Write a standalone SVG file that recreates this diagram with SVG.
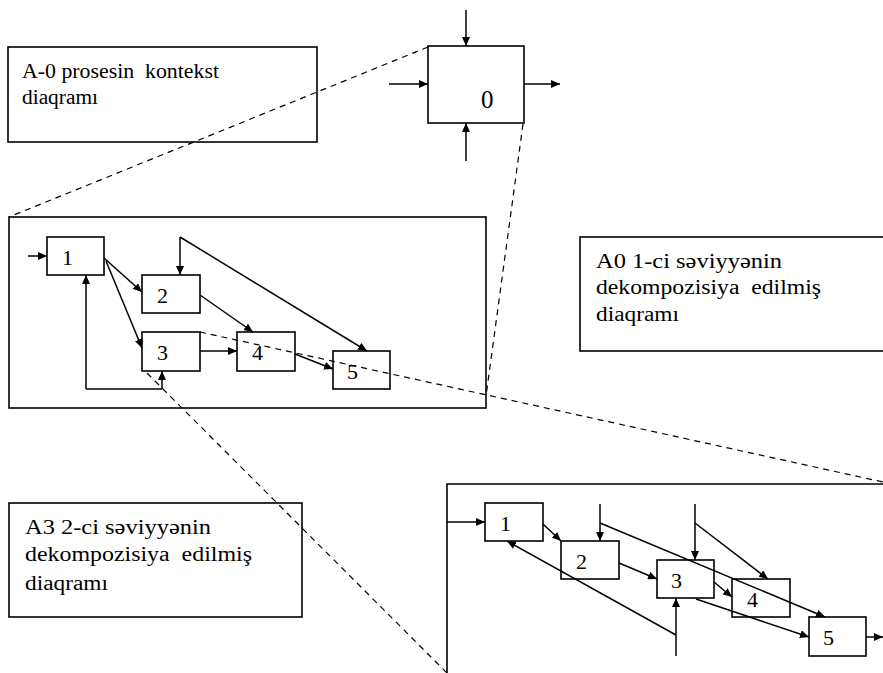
<svg xmlns="http://www.w3.org/2000/svg" width="883" height="673" viewBox="0 0 883 673">
<style>
.box{fill:#fff;stroke:#000;stroke-width:1.6}
.ln{fill:none;stroke:#000;stroke-width:1.5}
.ar{fill:none;stroke:#000;stroke-width:1.5;marker-end:url(#ah)}
.ds{fill:none;stroke:#000;stroke-width:1.2;stroke-dasharray:6,5}
text{font-family:'Liberation Serif','DejaVu Serif',serif;fill:#000}
.t{font-size:20px}
.n{font-size:22px}
</style>
<defs>
<marker id="ah" markerUnits="userSpaceOnUse" markerWidth="10" markerHeight="8" refX="9" refY="4" orient="auto">
<path d="M0,0 L9,4 L0,8 Z" fill="#000"/>
</marker>
</defs>
<rect width="883" height="673" fill="#fff"/>

<g id="label-A-0">
<rect class="box" x="8" y="47" width="309" height="95"/>
<text class="t" x="22" y="78" xml:space="preserve" textLength="197" lengthAdjust="spacingAndGlyphs">A-0 prosesin  kontekst</text>
<text class="t" x="22" y="104" textLength="76" lengthAdjust="spacingAndGlyphs">diaqramı</text>
</g>

<g id="node-0">
<rect class="box" x="428" y="46" width="96" height="77"/>
<text class="n" x="481" y="108" style="font-size:25px">0</text>
</g>

<g id="panel-A0">
<rect class="box" x="9" y="217" width="477" height="191"/>
</g>

<g id="label-A0">
<rect class="box" x="580" y="237" width="310" height="114"/>
<text class="t" x="596" y="268" xml:space="preserve" textLength="186" lengthAdjust="spacingAndGlyphs">A0 1-ci səviyyənin</text>
<text class="t" x="596" y="294" xml:space="preserve" textLength="225" lengthAdjust="spacingAndGlyphs">dekompozisiya  edilmiş</text>
<text class="t" x="596" y="321" textLength="83" lengthAdjust="spacingAndGlyphs">diaqramı</text>
</g>

<g id="label-A3">
<rect class="box" x="9" y="503" width="293" height="114"/>
<text class="t" x="25" y="534" xml:space="preserve" textLength="186" lengthAdjust="spacingAndGlyphs">A3 2-ci səviyyənin</text>
<text class="t" x="25" y="561" xml:space="preserve" textLength="227" lengthAdjust="spacingAndGlyphs">dekompozisiya  edilmiş</text>
<text class="t" x="25" y="590" textLength="83" lengthAdjust="spacingAndGlyphs">diaqramı</text>
</g>

<g id="panel-A3">
<path class="ln" d="M447,673 L447,484 L883,484" style="stroke-width:1.6"/>
</g>

<g id="a0-node-1"><rect class="box" x="47" y="237" width="57" height="38"/><text class="n" x="62" y="265">1</text></g>
<g id="a0-node-2"><rect class="box" x="142" y="275" width="58" height="38"/><text class="n" x="157" y="303">2</text></g>
<g id="a0-node-3"><rect class="box" x="142" y="332" width="58" height="39"/><text class="n" x="157" y="360">3</text></g>
<g id="a0-node-4"><rect class="box" x="237" y="332" width="58" height="39"/><text class="n" x="252" y="360">4</text></g>
<g id="a0-node-5"><rect class="box" x="333" y="351" width="57" height="38"/><text class="n" x="347" y="379">5</text></g>

<g id="a3-node-1"><rect class="box" x="485" y="503" width="58" height="38"/><text class="n" x="500" y="531">1</text></g>
<g id="a3-node-2"><rect class="box" x="561" y="541" width="58" height="38"/><text class="n" x="576" y="569">2</text></g>
<g id="a3-node-3"><rect class="box" x="657" y="560" width="57" height="38"/><text class="n" x="671" y="588">3</text></g>
<g id="a3-node-4"><rect class="box" x="732" y="579" width="58" height="38"/><text class="n" x="747" y="607">4</text></g>
<g id="a3-node-5"><rect class="box" x="809" y="617" width="57" height="39"/><text class="n" x="823" y="645">5</text></g>

<g id="connectors">
<line class="ar" x1="466" y1="10" x2="466" y2="46"/>
<line class="ar" x1="389" y1="84" x2="428" y2="84"/>
<line class="ar" x1="524" y1="84" x2="560" y2="84"/>
<line class="ar" x1="466" y1="161" x2="466" y2="123"/>

<line class="ds" x1="428" y1="47" x2="9" y2="217"/>
<line class="ds" x1="523" y1="124" x2="486" y2="396"/>
<line class="ds" x1="200" y1="332" x2="883" y2="482"/>
<line class="ds" x1="147" y1="373" x2="447" y2="673"/>

<line class="ar" x1="28" y1="256" x2="47" y2="256"/>
<line class="ar" x1="104" y1="258" x2="142" y2="292"/>
<line class="ar" x1="106" y1="261" x2="142" y2="348"/>
<path class="ln" d="M86,389 L162,389"/>
<line class="ar" x1="86" y1="389" x2="86" y2="275"/>
<line class="ar" x1="162" y1="389" x2="162" y2="371"/>
<path class="ar" d="M180,237 L180,275"/>
<line class="ar" x1="180" y1="237" x2="367" y2="351"/>
<line class="ar" x1="200" y1="295" x2="253" y2="332"/>
<line class="ar" x1="200" y1="351" x2="237" y2="351"/>
<line class="ar" x1="295" y1="354" x2="333" y2="369"/>

<line class="ar" x1="447" y1="522" x2="485" y2="522"/>
<line class="ar" x1="866" y1="637" x2="883" y2="637"/>
<line class="ar" x1="543" y1="524" x2="561" y2="541"/>
<line class="ar" x1="600" y1="504" x2="600" y2="541"/>
<line class="ar" x1="600" y1="523" x2="825" y2="617"/>
<line class="ar" x1="619" y1="563" x2="657" y2="579"/>
<line class="ar" x1="695" y1="504" x2="695" y2="560"/>
<line class="ar" x1="695" y1="523" x2="768" y2="579"/>
<line class="ar" x1="714" y1="582" x2="732" y2="597"/>
<line class="ar" x1="696" y1="599" x2="809" y2="637"/>
<line class="ar" x1="676" y1="656" x2="676" y2="598"/>
<line class="ar" x1="676" y1="635" x2="507" y2="541"/>
</g>
</svg>
